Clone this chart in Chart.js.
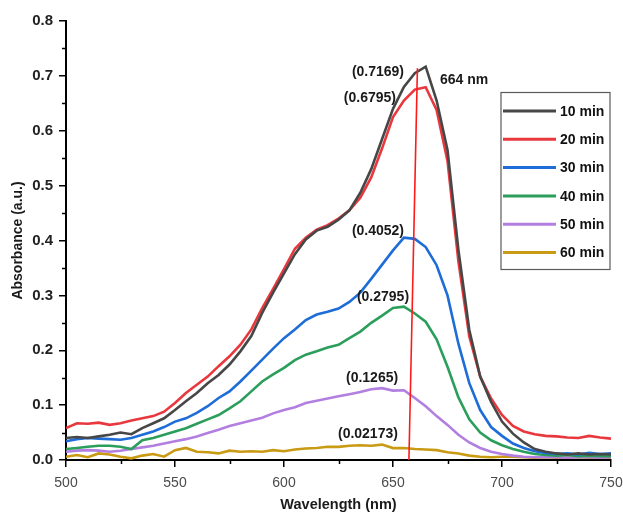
<!DOCTYPE html>
<html>
<head>
<meta charset="utf-8">
<script src="https://cdn.jsdelivr.net/npm/chart.js@4"></script>
<style>
  body { margin: 0; background: #fff; }
  #wrap { width: 623px; height: 514px; }
</style>
</head>
<body>
<div id="wrap"><canvas id="uvChart" width="623" height="514"></canvas></div>
<script>
// wavelengths (nm), one reading every 5 nm
const wavelengths = [500,505,510,515,520,525,530,535,540,545,550,555,560,565,570,575,580,585,590,595,600,605,610,615,620,625,630,635,640,645,650,655,660,665,670,675,680,685,690,695,700,705,710,715,720,725,730,735,740,745,750];

const abs10 = [0.040,0.042,0.040,0.043,0.046,0.050,0.047,0.058,0.067,0.076,0.091,0.107,0.122,0.140,0.155,0.174,0.198,0.226,0.268,0.305,0.340,0.375,0.402,0.418,0.425,0.438,0.455,0.487,0.530,0.585,0.640,0.680,0.705,0.7169,0.655,0.565,0.383,0.237,0.152,0.106,0.070,0.048,0.032,0.020,0.015,0.012,0.010,0.012,0.010,0.011,0.010];
const abs20 = [0.058,0.067,0.066,0.068,0.064,0.067,0.072,0.076,0.080,0.088,0.104,0.122,0.137,0.152,0.171,0.189,0.210,0.238,0.277,0.312,0.348,0.385,0.405,0.420,0.428,0.440,0.455,0.478,0.515,0.568,0.625,0.655,0.675,0.6795,0.638,0.545,0.362,0.225,0.152,0.112,0.082,0.062,0.052,0.047,0.044,0.043,0.041,0.040,0.044,0.041,0.039];
const abs30 = [0.034,0.038,0.040,0.039,0.038,0.037,0.040,0.046,0.052,0.060,0.070,0.076,0.086,0.098,0.113,0.125,0.143,0.163,0.183,0.203,0.222,0.238,0.255,0.265,0.270,0.276,0.288,0.305,0.330,0.356,0.382,0.4052,0.403,0.388,0.355,0.300,0.212,0.140,0.091,0.060,0.044,0.030,0.022,0.016,0.013,0.011,0.012,0.010,0.013,0.011,0.012];
const abs40 = [0.020,0.022,0.024,0.026,0.026,0.024,0.020,0.036,0.040,0.046,0.052,0.058,0.066,0.074,0.082,0.094,0.107,0.125,0.143,0.156,0.168,0.182,0.192,0.198,0.205,0.210,0.222,0.234,0.250,0.263,0.277,0.2795,0.267,0.252,0.220,0.170,0.114,0.074,0.050,0.036,0.027,0.020,0.015,0.011,0.009,0.008,0.009,0.007,0.008,0.007,0.007];
const abs50 = [0.015,0.017,0.018,0.017,0.015,0.017,0.020,0.023,0.026,0.030,0.034,0.038,0.043,0.049,0.055,0.062,0.067,0.072,0.077,0.085,0.091,0.096,0.104,0.108,0.112,0.116,0.120,0.124,0.129,0.131,0.1265,0.127,0.113,0.098,0.080,0.064,0.046,0.032,0.022,0.015,0.011,0.008,0.006,0.005,0.005,0.005,0.004,0.005,0.005,0.004,0.005];
const abs60 = [0.006,0.009,0.005,0.012,0.010,0.006,0.003,0.008,0.011,0.006,0.018,0.022,0.015,0.014,0.012,0.017,0.015,0.016,0.015,0.018,0.016,0.019,0.021,0.022,0.024,0.024,0.026,0.027,0.026,0.028,0.02173,0.022,0.020,0.019,0.018,0.014,0.012,0.008,0.006,0.005,0.006,0.006,0.005,0.004,0.005,0.004,0.004,0.005,0.004,0.004,0.004];

const seriesLabels = ['10 min','20 min','30 min','40 min','50 min','60 min'];
const seriesColors = ['#474747','#e8383d','#1d6cd8','#2b9e5b','#b27fe0','#c99a14'];
const seriesValues = [abs10, abs20, abs30, abs40, abs50, abs60];

// red marker line at the band maximum (wavelength, absorbance)
const markerX = [657.3, 661.2];
const markerY = [0, 0.714];

// peak labels: text, wavelength, absorbance (centre of the text)
const peakText = ['(0.7169)','664 nm','(0.6795)','(0.4052)','(0.2795)','(0.1265)','(0.02173)'];
const peakX = [643.1, 682.6, 639.4, 643.1, 645.4, 640.4, 638.5];
const peakY = [0.707, 0.6925, 0.660, 0.417, 0.297, 0.150, 0.047];

const xTicks = [500, 550, 600, 650, 700, 750];
const yTicks = [0.0, 0.1, 0.2, 0.3, 0.4, 0.5, 0.6, 0.7, 0.8];

const FONT = "'Liberation Sans', Arial, sans-serif";

const datasets = seriesValues.map((vals, i) => ({
    label: seriesLabels[i],
    data: wavelengths.map((w, k) => ({ x: w, y: vals[k] })),
    borderColor: seriesColors[i],
    borderWidth: 2.6,
    pointRadius: 0,
    tension: 0,
    order: i + 1
}));
datasets.push({
    label: 'marker',
    data: markerX.map((w, k) => ({ x: w, y: markerY[k] })),
    borderColor: '#ff1a1a',
    borderWidth: 1.6,
    pointRadius: 0,
    order: 0
});

const extras = {
    id: 'extras',
    afterDraw(chart) {
        const { ctx, chartArea, scales: { x, y } } = chart;
        ctx.save();

        // minor ticks halfway between the major ones
        ctx.strokeStyle = '#000';
        ctx.lineWidth = 1.5;
        ctx.beginPath();
        for (let i = 0; i < yTicks.length - 1; i++) {
            const py = Math.round(y.getPixelForValue((yTicks[i] + yTicks[i + 1]) / 2)) + 0.5;
            ctx.moveTo(chartArea.left - 4, py);
            ctx.lineTo(chartArea.left, py);
        }
        for (let i = 0; i < xTicks.length - 1; i++) {
            const px = Math.round(x.getPixelForValue((xTicks[i] + xTicks[i + 1]) / 2)) + 0.5;
            ctx.moveTo(px, chartArea.bottom);
            ctx.lineTo(px, chartArea.bottom + 4);
        }
        ctx.stroke();

        // peak labels
        ctx.font = 'bold 14px ' + FONT;
        ctx.fillStyle = '#1a1a1a';
        ctx.textAlign = 'center';
        ctx.textBaseline = 'middle';
        peakText.forEach((t, i) => {
            ctx.fillText(t, x.getPixelForValue(peakX[i]), y.getPixelForValue(peakY[i]));
        });

        // legend box
        const bx = chartArea.right - 110, by = chartArea.top + 71.5;
        const bw = 109, bh = 177;
        ctx.strokeStyle = '#5a5a5a';
        ctx.lineWidth = 1.2;
        ctx.strokeRect(bx, by, bw, bh);
        ctx.textAlign = 'left';
        seriesLabels.forEach((lab, i) => {
            const ly = by + 18.5 + i * 28.3;
            ctx.strokeStyle = seriesColors[i];
            ctx.lineWidth = 3;
            ctx.beginPath();
            ctx.moveTo(bx + 2, ly);
            ctx.lineTo(bx + 55, ly);
            ctx.stroke();
            ctx.fillStyle = '#111';
            ctx.fillText(lab, bx + 59, ly + 1);
        });
        ctx.restore();
    }
};

new Chart(document.getElementById('uvChart'), {
    type: 'line',
    data: { datasets: datasets },
    options: {
        responsive: false,
        animation: false,
        layout: { padding: { left: 0, right: 12, top: 21, bottom: 0 } },
        plugins: { legend: { display: false }, tooltip: { enabled: false } },
        scales: {
            x: {
                type: 'linear',
                min: 500,
                max: 750,
                afterBuildTicks: s => { s.ticks = xTicks.map(v => ({ value: v })); },
                afterFit: s => { s.height = 54; s.paddingLeft = 0; s.paddingRight = 0; },
                ticks: {
                    color: '#4a4a4a',
                    font: { family: FONT, size: 14 },
                    padding: 8,
                    maxRotation: 0
                },
                grid: { drawOnChartArea: false, drawTicks: true, tickLength: 7, color: '#000', lineWidth: 1.5 },
                border: { display: true, color: '#000', width: 2 },
                title: {
                    display: true,
                    text: 'Wavelength (nm)',
                    color: '#1a1a1a',
                    font: { family: FONT, size: 14.5, weight: 'bold' },
                    padding: { top: 0, bottom: 0 }
                }
            },
            y: {
                min: 0,
                max: 0.8,
                afterBuildTicks: s => { s.ticks = yTicks.map(v => ({ value: v })); },
                afterFit: s => { s.width = 66; s.paddingTop = 0; s.paddingBottom = 0; },
                ticks: {
                    color: '#222',
                    font: { family: FONT, size: 15, weight: 'bold' },
                    padding: 6,
                    callback: v => v.toFixed(1)
                },
                grid: { drawOnChartArea: false, drawTicks: true, tickLength: 7, color: '#000', lineWidth: 1.5 },
                border: { display: true, color: '#000', width: 2 },
                title: {
                    display: true,
                    text: 'Absorbance (a.u.)',
                    color: '#1a1a1a',
                    font: { family: FONT, size: 14, weight: 'bold' },
                    padding: { top: 10, bottom: 0 }
                }
            }
        }
    },
    plugins: [extras]
});
</script>
</body>
</html>
